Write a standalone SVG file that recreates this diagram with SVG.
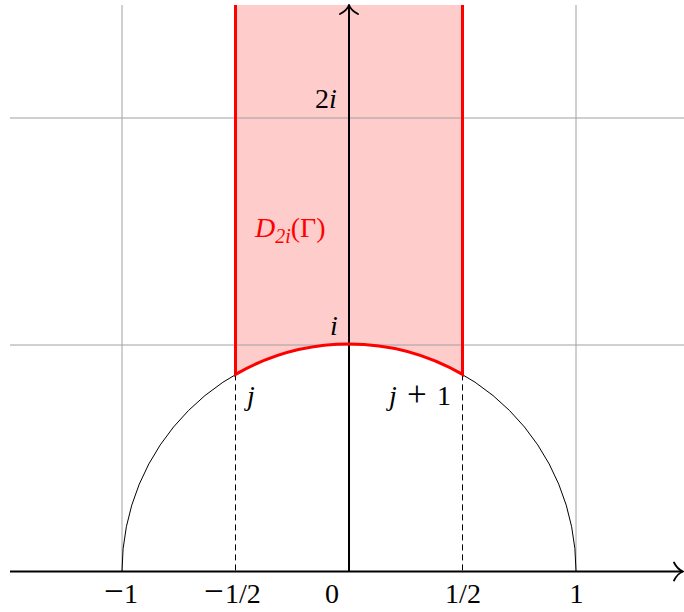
<svg xmlns="http://www.w3.org/2000/svg" width="684" height="612" viewBox="0 0 684 612">
<defs>
<style>
.grid{stroke:#a0a0a0;stroke-width:1;fill:none}
.axis{stroke:#000;stroke-width:2;fill:none}
.t{font-family:"Liberation Serif","DejaVu Serif",serif;font-size:28px;fill:#000}
.it{font-style:italic}
.op{font-size:35px}
.red{fill:#ff0000}
</style>
<marker id="arr" markerWidth="12" markerHeight="22" refX="10.5" refY="11" orient="auto" markerUnits="userSpaceOnUse">
<path d="M1.5,2 Q5,9 10.5,11 Q5,13 1.5,20" fill="none" stroke="#000" stroke-width="1.8" stroke-linecap="round"/>
</marker>
</defs>
<rect width="684" height="612" fill="#fff"/>
<g id="region">
<path d="M235.5,5 L235.5,374.4 A227,227 0 0 1 462.5,374.4 L462.5,5 Z" fill="#ffcccc" stroke="none"/>
</g>
<g id="grid">
<line class="grid" x1="122" y1="5" x2="122" y2="571"/>
<line class="grid" x1="576" y1="5" x2="576" y2="571"/>
<line class="grid" x1="10" y1="118" x2="684" y2="118"/>
<line class="grid" x1="10" y1="345" x2="684" y2="345"/>
</g>
<g id="connectors">
<path d="M122,571 A227,227 0 0 1 576,571" fill="none" stroke="#000" stroke-width="1"/>
<line x1="235.5" y1="374.4" x2="235.5" y2="571" stroke="#000" stroke-width="1" stroke-dasharray="6,4"/>
<line x1="462.5" y1="374.4" x2="462.5" y2="571" stroke="#000" stroke-width="1" stroke-dasharray="6,4"/>
<line class="axis" x1="10" y1="571.5" x2="683" y2="571.5" marker-end="url(#arr)"/>
<line class="axis" x1="349" y1="571" x2="349" y2="5" marker-end="url(#arr)"/>
<path d="M235.5,5 L235.5,374.4 A227,227 0 0 1 462.5,374.4 L462.5,5" fill="none" stroke="#ff0000" stroke-width="3"/>
</g>
<g id="labels">
<text class="t" x="315" y="108">2<tspan class="it">i</tspan></text>
<text class="t it" x="330" y="335">i</text>
<text class="t red" x="255" y="237"><tspan class="it">D</tspan><tspan class="it" font-size="20" dy="6">2i</tspan><tspan dy="-6">(Γ)</tspan></text>
<text class="t it" x="247" y="405">j</text>
<text class="t" x="389" y="405"><tspan class="it">j</tspan><tspan class="op" x="407" dy="1">+</tspan><tspan x="437" dy="-1">1</tspan></text>
<text class="t" x="104" y="603"><tspan class="op">−</tspan><tspan x="124">1</tspan></text>
<text class="t" x="204" y="603"><tspan class="op">−</tspan><tspan x="225">1/2</tspan></text>
<text class="t" x="332" y="603" text-anchor="middle">0</text>
<text class="t" x="463" y="603" text-anchor="middle">1/2</text>
<text class="t" x="576.5" y="603" text-anchor="middle">1</text>
</g>
</svg>
